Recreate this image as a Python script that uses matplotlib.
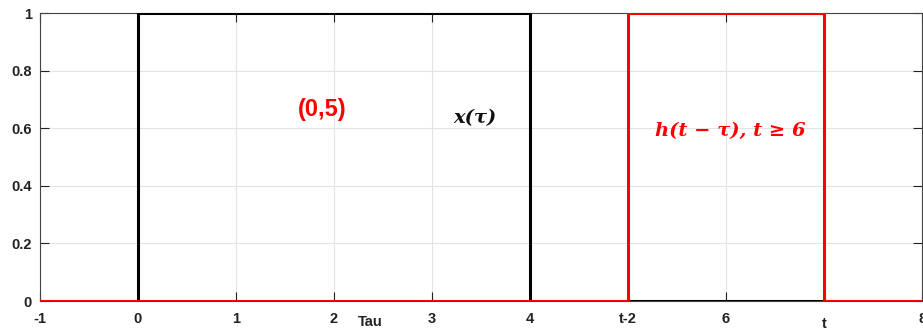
import matplotlib
matplotlib.use("Agg")
import matplotlib.pyplot as plt
from matplotlib.transforms import ScaledTranslation

# Data
x_tau_t = [-1, 0, 0, 4, 4, 8]
x_tau_v = [0, 0, 1, 1, 0, 0]
h_t = [-1, 5, 5, 7, 7, 8]
h_v = [0, 0, 1, 1, 0, 0]
xticks = [-1, 0, 1, 2, 3, 4, 5, 6, 7, 8]
xticklabels = ['-1', '0', '1', '2', '3', '4', 't-2', '6', 't', '8']
yticks = [0, 0.2, 0.4, 0.6, 0.8, 1]
yticklabels = ['0', '0.2', '0.4', '0.6', '0.8', '1']

plt.rcParams['font.family'] = ['Liberation Sans', 'DejaVu Sans']

fig = plt.figure(figsize=(9.23, 3.31), dpi=100)
ax = fig.add_axes([0.0433, 0.0906, 0.9557, 0.8701])

ax.plot(x_tau_t, x_tau_v, color='black', lw=2.2, zorder=3)
ax.plot(h_t, h_v, color='red', lw=2.2, zorder=4)

ax.set_xlim(-1, 8)
ax.set_ylim(0, 1)
ax.set_xticks(xticks)
ax.set_xticklabels(xticklabels, fontsize=10.5, fontweight='bold')
ax.set_yticks(yticks)
ax.set_yticklabels(yticklabels, fontsize=10.5, fontweight='bold')
ax.tick_params(direction='in', length=6.5, width=0.8, top=True, right=True, colors='#222222')
ax.tick_params(axis='x', pad=8)
ax.tick_params(axis='y', pad=6)
for lab in ax.get_xticklabels():
    lab.set_color('#222222')
    if lab.get_text() == 't':
        lab.set_transform(lab.get_transform() + ScaledTranslation(0, -3.6/72, fig.dpi_scale_trans))
ax.grid(True, color='#e3e3e3', lw=0.8)
ax.set_axisbelow(True)
for s in ax.spines.values():
    s.set_color('#444444')
    s.set_linewidth(0.8)

ax.text(2.37, -0.072, 'Tau', fontsize=10.5, fontweight='bold', ha='center', va='center',
        transform=ax.transData, color='#222222')

ax.text(1.88, 0.665, '(0,5)', color='red', fontsize=17, fontweight='bold', ha='center', va='center')
ax.text(3.44, 0.635, 'x(τ)', color='#111111', fontsize=14,
        fontweight='bold', fontstyle='italic', family=['DejaVu Serif'], ha='center', va='center')
ax.text(6.04, 0.59, 'h(t − τ), t ≥ 6', color='red', fontsize=14,
        fontweight='bold', fontstyle='italic', family=['DejaVu Serif'], ha='center', va='center')

fig.savefig('out.png', dpi=100)
